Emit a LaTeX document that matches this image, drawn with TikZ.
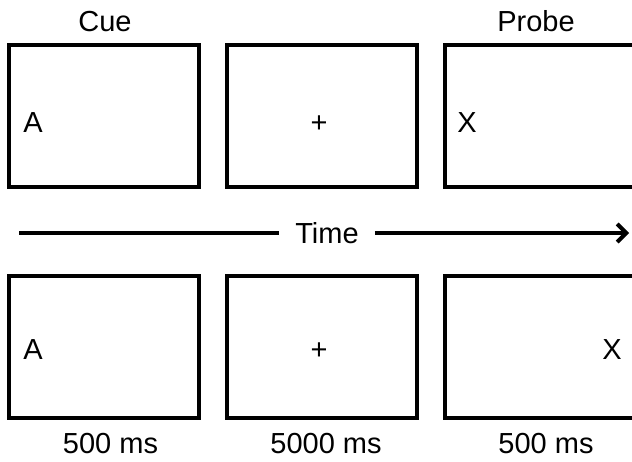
\documentclass[tikz,border=0pt]{standalone}
\usepackage{fontspec}
\setmainfont{Liberation Sans}
\usetikzlibrary{arrows.meta}
\begin{document}
\begin{tikzpicture}[x=1pt,y=-1pt,
  screen/.style={draw=black, line width=4pt, minimum width=190pt, minimum height=142pt, inner sep=0pt},
  lbl/.style={font=\fontsize{29}{33}\selectfont, inner sep=0pt, anchor=base},
  tline/.style={line width=4pt}]
\clip (0,0) rectangle (632,461);
% top row
\node[screen] (t1) at (104.25,115.5) {};
\node[screen] (t2) at (322,115.5) {};
\node[screen] (t3) at (540,115.5) {};
% bottom row
\node[screen] (b1) at (104.25,346.5) {};
\node[screen] (b2) at (322,346.5) {};
\node[screen] (b3) at (540,346.5) {};
% headings
\node[lbl] (cue) at (105,31) {Cue};
\node[lbl] (probe) at (536,31) {Probe};
% contents
\node[lbl] (tA) at (33,132) {A};
\node[lbl] (tplus) at (319,132) {+};
\node[lbl] (tX) at (467,132) {X};
\node[lbl] (bA) at (33,359) {A};
\node[lbl] (bplus) at (319,359) {+};
\node[lbl] (bX) at (612,359) {X};
% durations
\node[lbl] (d1) at (110.5,453) {500 ms};
\node[lbl] (d2) at (326,453) {5000 ms};
\node[lbl] (d3) at (546,453) {500 ms};
% time arrow
\coordinate (tstart) at (19,233);
\coordinate (tend) at (629,233);
\node[lbl, inner xsep=16pt] (time) at (327,243) {Time};
\draw[tline] (tstart) -- (time.west |- tstart);
\draw[tline, -{Straight Barb[length=9pt,width=18pt]}] (time.east |- tend) -- (tend);
\end{tikzpicture}
\end{document}
